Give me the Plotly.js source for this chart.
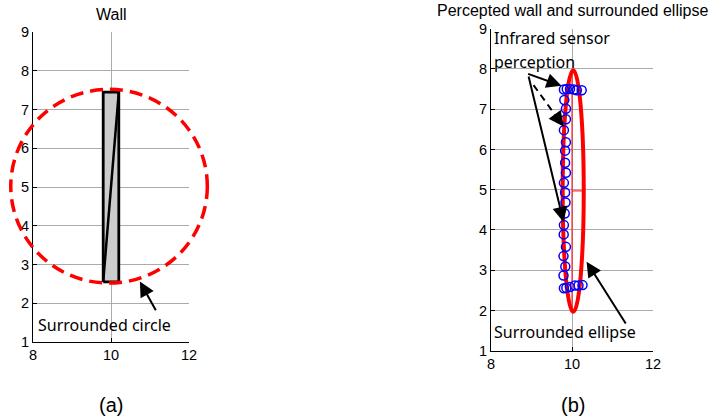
<!DOCTYPE html>
<html><head><meta charset="utf-8">
<script src="https://cdn.plot.ly/plotly-3.0.1.min.js"></script>
<style>html,body{margin:0;padding:0;background:#fff}#chart{width:713px;height:420px}</style>
</head><body><div id="chart"></div>
<script>
// ---- data ----
const xTicks = [8, 10, 12];
const yTicks = [1, 2, 3, 4, 5, 6, 7, 8, 9];
const xRange = [8, 12];
const yRange = [1, 9];

// (a) wall
const wallX = [9.8, 10.2, 10.2, 9.8, 9.8];
const wallY = [2.55, 2.55, 7.45, 7.45, 2.55];
const diagX = [9.8, 10.2];
const diagY = [2.55, 7.45];
const circleCenter = [9.95, 5.02];
const circleRadius = [2.52, 2.5];
const circleArrowTail = [11.17, 1.78];
const circleArrowHead = [10.74, 2.56];

// (b) perceived wall
const sensorX = [9.80, 9.87, 9.95, 10.05, 10.12, 10.24,
  9.81, 9.85, 9.85, 9.80, 9.85, 9.83, 9.83, 9.85, 9.80, 9.83, 9.84, 9.82, 9.80, 9.795, 9.85, 9.79, 9.835, 9.79,
  9.80, 9.86, 9.95, 10.07, 10.16, 10.26];
const sensorY = [7.49, 7.50, 7.50, 7.49, 7.47, 7.47,
  7.23, 7.01, 6.75, 6.48, 6.18, 5.97, 5.67, 5.42, 5.17, 4.93, 4.68, 4.41, 4.12, 3.89, 3.58, 3.35, 3.09, 2.87,
  2.55, 2.56, 2.58, 2.62, 2.62, 2.63];
const ellipseCenter = [10.03, 4.965];
const ellipseRadius = [0.26, 3.0];
const majorAxisX = [10.0, 10.0];
const majorAxisY = [1.96, 7.97];
const minorAxisX = [10.0, 10.29];
const minorAxisY = [4.97, 4.97];
const sensorArrowsSolid = [
  {tail: [8.88, 7.89], head: [9.74, 7.58]},
  {tail: [8.92, 7.85], head: [9.79, 4.20]}
];
const sensorArrowDashed = {tail: [9.05, 7.60], head: [9.79, 6.57]};
const ellipseArrowTail = [11.35, 1.64];
const ellipseArrowHead = [10.36, 3.21];

// ---- layout geometry ----
const W = 713, H = 420;
const domA = {x: [33 / W, 189 / W], y: [1 - 342 / H, 1 - 32 / H]};
const domB = {x: [491 / W, 653 / W], y: [1 - 350.7 / H, 1 - 28.7 / H]};
const ovA = {x: [0, 280 / W], y: [0.03, 1]};
function mapRange(d, r, o) {
  const s = (r[1] - r[0]) / (d[1] - d[0]);
  return [r[0] + (o[0] - d[0]) * s, r[0] + (o[1] - d[0]) * s];
}

const tickFont = {family: 'Liberation Sans, Arial, sans-serif', size: 14.5, color: '#000'};
function axis(dom, range, tickvals, anchor) {
  return {domain: dom, range: range, tickvals: tickvals, ticktext: tickvals.map(String),
    showgrid: true, gridcolor: '#ababab', gridwidth: 1, zeroline: false,
    showline: true, linecolor: '#000', linewidth: 1, ticks: 'inside', ticklen: 4,
    tickcolor: '#000', tickfont: tickFont, anchor: anchor, fixedrange: true};
}

const traces = [
  {x: wallX, y: wallY, xaxis: 'x', yaxis: 'y', mode: 'lines', fill: 'toself',
   fillcolor: '#cccccc', line: {color: '#000', width: 2.8}, hoverinfo: 'skip'},
  {x: diagX, y: diagY, xaxis: 'x', yaxis: 'y', mode: 'lines', line: {color: '#000', width: 2.5}, hoverinfo: 'skip'},
  {x: [], y: [], xaxis: 'x3', yaxis: 'y3', mode: 'lines', hoverinfo: 'skip'},
  {x: majorAxisX, y: majorAxisY, xaxis: 'x2', yaxis: 'y2', mode: 'lines', line: {color: '#ff0000', width: 1}, hoverinfo: 'skip'},
  {x: minorAxisX, y: minorAxisY, xaxis: 'x2', yaxis: 'y2', mode: 'lines', line: {color: '#ff0000', width: 1}, hoverinfo: 'skip'},
  {x: sensorX, y: sensorY, xaxis: 'x2', yaxis: 'y2', mode: 'markers',
   marker: {symbol: 'circle-open', size: 9, color: '#0000ff', line: {width: 1.5, color: '#0000ff'}}, hoverinfo: 'skip'}
];
// dashed arrow shaft
const dt = sensorArrowDashed.tail, dh = sensorArrowDashed.head;
const dmid = [dt[0] + (dh[0] - dt[0]) * 0.72, dt[1] + (dh[1] - dt[1]) * 0.72];
traces.push({x: [dt[0], dmid[0]], y: [dt[1], dmid[1]], xaxis: 'x2', yaxis: 'y2', mode: 'lines',
  line: {color: '#000', width: 2, dash: '7px,5px'}, hoverinfo: 'skip'});

const annFont = {family: 'Noto Sans, sans-serif', size: 16, color: '#000'};
const titleFont = {family: 'Liberation Sans, Arial, sans-serif', size: 16, color: '#000'};
const capFont = {family: 'Liberation Sans, Arial, sans-serif', size: 20, color: '#000'};
function arrow(xr, yr, tail, head) {
  return {xref: xr, yref: yr, axref: xr, ayref: yr, x: head[0], y: head[1], ax: tail[0], ay: tail[1],
    text: '', showarrow: true, arrowhead: 2, arrowsize: 1.5, arrowwidth: 2, arrowcolor: '#000'};
}
function label(x, y, text, font) {
  return {xref: 'paper', yref: 'paper', x: x / W, y: 1 - y / H, xanchor: 'center', yanchor: 'middle',
    text: text, showarrow: false, font: font};
}
const annotations = [
  label(111, 15, 'Wall', titleFont),
  label(572, 10, 'Percepted wall and surrounded ellipse', titleFont),
  label(111, 405, '(a)', capFont),
  label(573, 405, '(b)', capFont),
  {xref: 'x', yref: 'y', x: 8.08, y: 1.44, xanchor: 'left', yanchor: 'middle', text: 'Surrounded circle', showarrow: false, font: annFont},
  {xref: 'x2', yref: 'y2', x: 8.03, y: 8.77, xanchor: 'left', yanchor: 'middle', text: 'Infrared sensor', showarrow: false, font: annFont},
  {xref: 'x2', yref: 'y2', x: 8.03, y: 8.17, xanchor: 'left', yanchor: 'middle', text: 'perception', showarrow: false, font: annFont},
  {xref: 'x2', yref: 'y2', x: 8.03, y: 1.47, xanchor: 'left', yanchor: 'middle', text: 'Surrounded ellipse', showarrow: false, font: annFont},
  arrow('x', 'y', circleArrowTail, circleArrowHead),
  arrow('x2', 'y2', sensorArrowsSolid[0].tail, sensorArrowsSolid[0].head),
  arrow('x2', 'y2', sensorArrowsSolid[1].tail, sensorArrowsSolid[1].head),
  arrow('x2', 'y2', dmid, dh),
  arrow('x2', 'y2', ellipseArrowTail, ellipseArrowHead)
];

const shapes = [
  {type: 'circle', xref: 'x3', yref: 'y3', layer: 'above',
   x0: circleCenter[0] - circleRadius[0], x1: circleCenter[0] + circleRadius[0],
   y0: circleCenter[1] - circleRadius[1], y1: circleCenter[1] + circleRadius[1],
   line: {color: '#ff0000', width: 3.5, dash: '13px,7px'}},
  {type: 'circle', xref: 'x2', yref: 'y2', layer: 'between',
   x0: ellipseCenter[0] - ellipseRadius[0], x1: ellipseCenter[0] + ellipseRadius[0],
   y0: ellipseCenter[1] - ellipseRadius[1], y1: ellipseCenter[1] + ellipseRadius[1],
   line: {color: '#ff0000', width: 4}}
];

const layout = {
  width: W, height: H, margin: {l: 0, r: 0, t: 0, b: 0}, showlegend: false,
  paper_bgcolor: '#fff', plot_bgcolor: 'rgba(0,0,0,0)',
  xaxis: axis(domA.x, xRange, xTicks, 'y'),
  yaxis: axis(domA.y, yRange, yTicks, 'x'),
  xaxis2: axis(domB.x, xRange, xTicks, 'y2'),
  yaxis2: axis(domB.y, yRange, yTicks, 'x2'),
  xaxis3: {domain: ovA.x, range: mapRange(domA.x, xRange, ovA.x), visible: false, anchor: 'y3', fixedrange: true},
  yaxis3: {domain: ovA.y, range: mapRange(domA.y, yRange, ovA.y), visible: false, anchor: 'x3', fixedrange: true},
  annotations: annotations, shapes: shapes
};
Plotly.newPlot('chart', traces, layout, {staticPlot: true});
</script></body></html>
